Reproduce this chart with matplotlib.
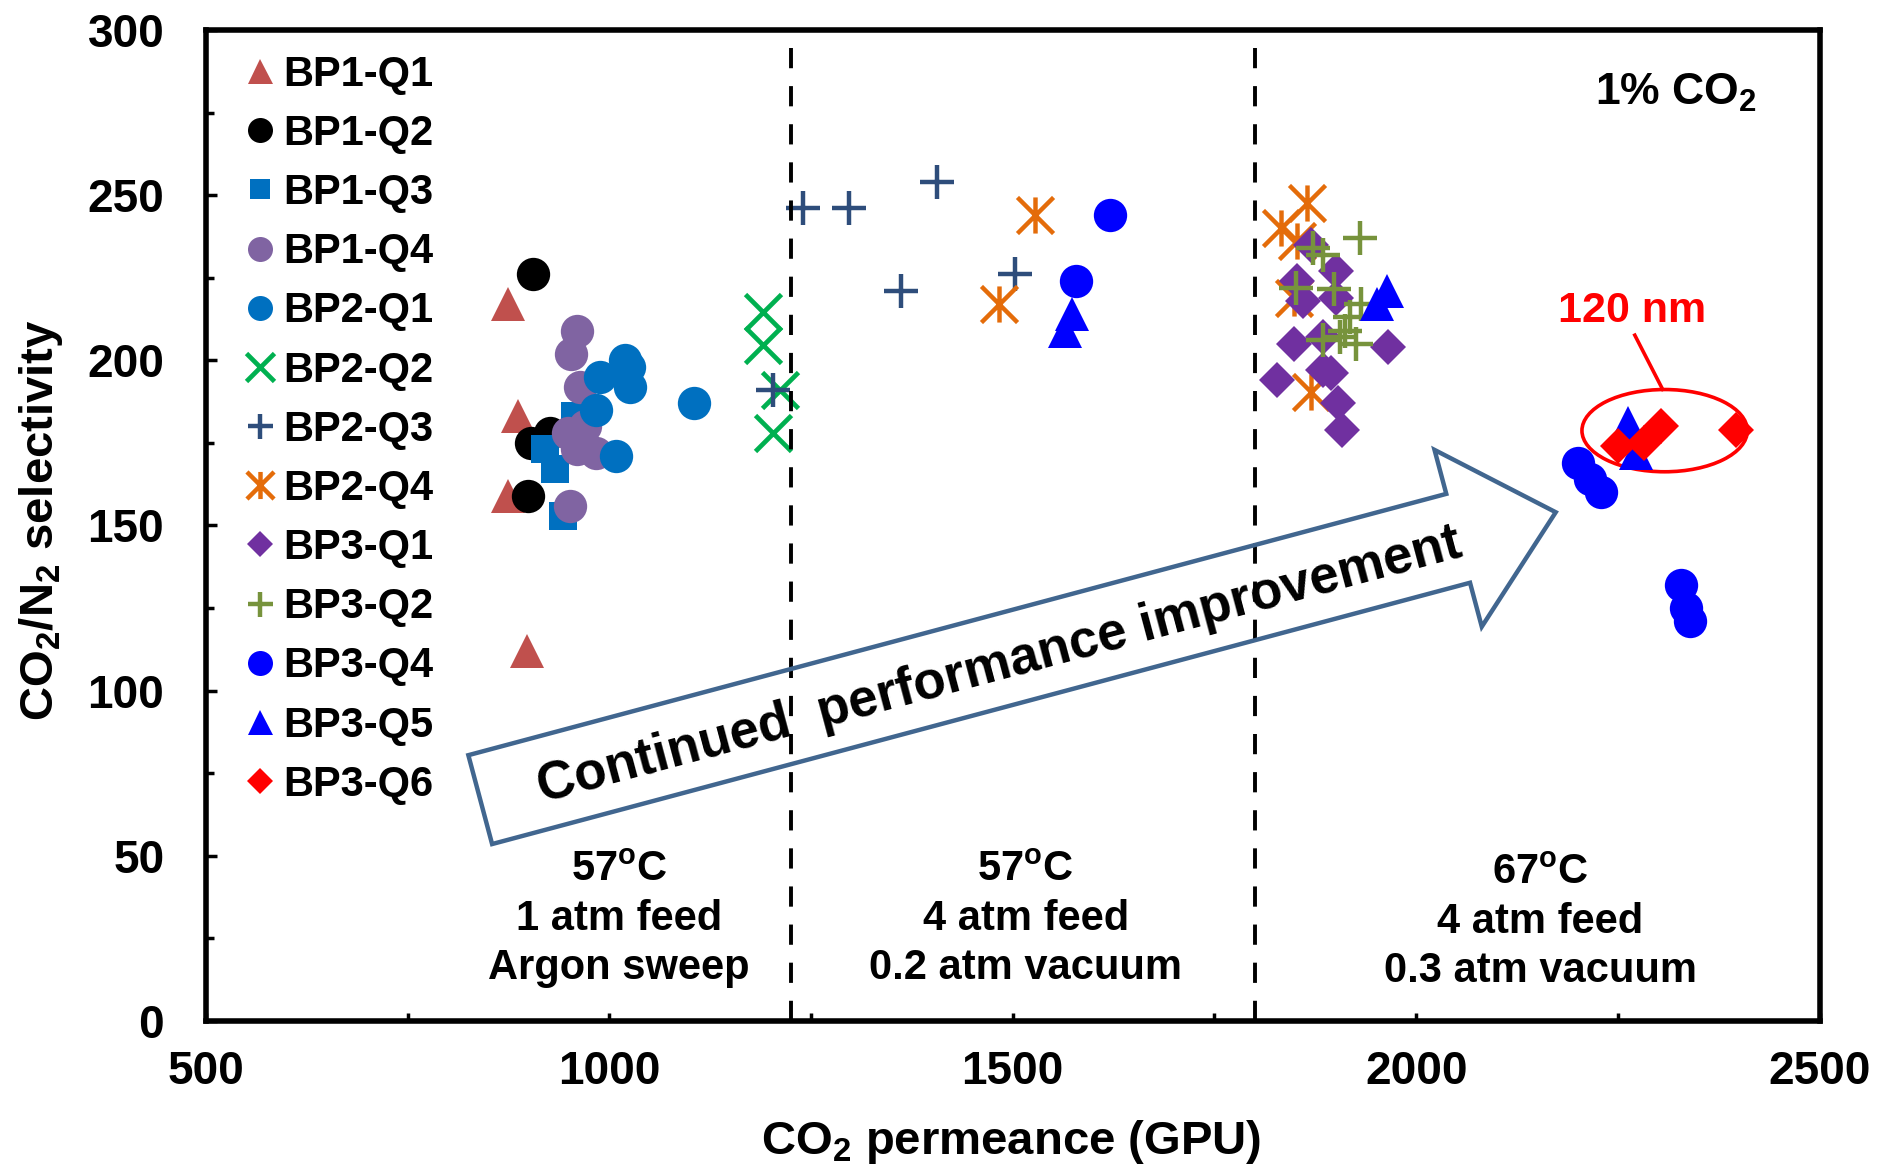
import numpy as np
import matplotlib
matplotlib.use("Agg")
import matplotlib.pyplot as plt
from matplotlib.path import Path
from matplotlib.patches import Ellipse, Polygon
from matplotlib.transforms import IdentityTransform
from matplotlib.ticker import MultipleLocator

plt.rcParams['font.family'] = ['Liberation Sans', 'DejaVu Sans']
plt.rcParams['font.weight'] = 'bold'
plt.rcParams['mathtext.fontset'] = 'custom'
plt.rcParams['mathtext.rm'] = 'Liberation Sans:bold'
plt.rcParams['mathtext.bf'] = 'Liberation Sans:bold'
plt.rcParams['mathtext.it'] = 'Liberation Sans:bold'

# ===================== data =====================
bp1_q1_x = [874, 887, 875, 898]
bp1_q1_y = [217, 183, 159, 112]
bp1_q2_x = [906, 926, 903, 899]
bp1_q2_y = [226, 178, 175, 159]
bp1_q3_x = [957, 920, 933, 942]
bp1_q3_y = [183, 173, 167, 153]
bp1_q4_x = [960, 953, 964, 949, 960, 970, 983, 951]
bp1_q4_y = [209, 202, 192, 178, 173, 180, 172, 156]
bp2_q1_x = [1019, 1024, 1026, 989, 984, 1008, 1105]
bp2_q1_y = [200, 198, 192, 195, 185, 171, 187]
bp2_q2_x = [1190, 1190, 1211, 1203]
bp2_q2_y = [214.5, 204.6, 191, 178]
bp2_q3_x = [1203, 1240, 1297, 1406, 1361, 1503]
bp2_q3_y = [191, 246, 246, 254, 221, 226]
bp2_q4_x = [1527, 1483, 1865, 1832, 1852, 1848, 1870]
bp2_q4_y = [244, 217, 247.5, 240, 236, 219, 190.5]
bp3_q1_x = [1870, 1901, 1852, 1860, 1901, 1848, 1885, 1965, 1827, 1885, 1895, 1903, 1908]
bp3_q1_y = [235, 227, 224, 218, 219, 205, 207, 204, 194, 197, 196, 187, 179]
bp3_q2_x = [1930, 1872, 1884, 1851, 1898, 1932, 1918, 1912, 1884, 1905, 1925]
bp3_q2_y = [237, 234, 232, 222, 221.5, 217, 213, 209, 206, 207, 205]
bp3_q4_x = [1621, 1578, 2201, 2215, 2229, 2328, 2334, 2339]
bp3_q4_y = [244, 224, 169, 164, 160, 132, 125, 121]
bp3_q5_x = [1573, 1565, 1964, 1951, 2263, 2273]
bp3_q5_y = [214, 209, 221, 217, 181, 172]
bp3_q6_x = [2250, 2282, 2304, 2397]
bp3_q6_y = [174, 175, 180, 179]

# asterisk marker like the spreadsheet one (X + vertical bar)
asterisk = Path([(-1, -1), (1, 1), (-1, 1), (1, -1), (0, -1), (0, 1)],
                [Path.MOVETO, Path.LINETO] * 3)

series = [
    ("BP1-Q1", bp1_q1_x, bp1_q1_y, "^", "#C0504D", 24, 0),
    ("BP1-Q2", bp1_q2_x, bp1_q2_y, "o", "black", 24, 0),
    ("BP1-Q3", bp1_q3_x, bp1_q3_y, "s", "#0070C0", 20, 0),
    ("BP1-Q4", bp1_q4_x, bp1_q4_y, "o", "#8064A2", 24, 0),
    ("BP2-Q1", bp2_q1_x, bp2_q1_y, "o", "#0070C0", 24, 0),
    ("BP2-Q2", bp2_q2_x, bp2_q2_y, "x", "#00B050", 26, 3.4),
    ("BP2-Q3", bp2_q3_x, bp2_q3_y, "+", "#2E4D7B", 24, 3.2),
    ("BP2-Q4", bp2_q4_x, bp2_q4_y, asterisk, "#E46C0A", 26, 3.2),
    ("BP3-Q1", bp3_q1_x, bp3_q1_y, "D", "#7030A0", 18, 0),
    ("BP3-Q2", bp3_q2_x, bp3_q2_y, "+", "#77933C", 24, 3.2),
    ("BP3-Q4", bp3_q4_x, bp3_q4_y, "o", "#0000FF", 24, 0),
    ("BP3-Q5", bp3_q5_x, bp3_q5_y, "^", "#0000FF", 24, 0),
    ("BP3-Q6", bp3_q6_x, bp3_q6_y, "D", "#FF0000", 18, 0),
]

fig = plt.figure(figsize=(18.77, 11.70), dpi=100)
ax = fig.add_axes([0.1097, 0.1274, 0.8597, 0.847])

for i, (name, xs, ys, mk, col, ms, mew) in enumerate(series):
    ax.plot(xs, ys, linestyle="none", marker=mk, markersize=ms, color=col,
            markeredgewidth=mew, label=name, zorder=4 + i)

ax.set_xlim(500, 2500)
ax.set_ylim(0, 300)

# region separators
for xv in [1225, 1800]:
    ax.plot([xv, xv], [0, 300], color="black", lw=2.8, dashes=(5.2, 4.6), zorder=20)

# axes style
for sp in ax.spines.values():
    sp.set_linewidth(4)
ax.xaxis.set_major_locator(MultipleLocator(500))
ax.xaxis.set_minor_locator(MultipleLocator(250))
ax.yaxis.set_major_locator(MultipleLocator(50))
ax.yaxis.set_minor_locator(MultipleLocator(25))
ax.tick_params(axis="both", which="both", direction="in", width=2.5, labelsize=33)
ax.tick_params(axis="y", which="major", length=8, pad=30)
ax.tick_params(axis="y", which="minor", length=5.5)
ax.tick_params(axis="x", which="both", length=6, pad=21)
ax.tick_params(top=False, right=False, which="both")

ax.set_xlabel(r"CO$_\mathbf{2}$ permeance (GPU)", fontsize=34, fontweight="bold")
ax.set_ylabel(r"CO$_\mathbf{2}$/N$_\mathbf{2}$ selectivity", fontsize=34, fontweight="bold")
ax.xaxis.set_label_coords(0.499, -0.122)
ax.xaxis.label.set_va("center")
ax.yaxis.set_label_coords(-0.102, 0.505)
ax.yaxis.label.set_va("center")

# legend
leg = ax.legend(loc="upper left", bbox_to_anchor=(0.021, 0.975), frameon=False,
                fontsize=30, markerscale=0.75, handlelength=0.95, handletextpad=0.1,
                labelspacing=0.46, borderaxespad=0, borderpad=0)

# condition labels
ax.text(1012, 30.9, "57$^\\mathbf{o}$C\n1 atm feed\nArgon sweep", ha="center", va="center",
        fontsize=30, linespacing=1.28)
ax.text(1516, 30.9, "57$^\\mathbf{o}$C\n4 atm feed\n0.2 atm vacuum", ha="center", va="center",
        fontsize=30, linespacing=1.28)
ax.text(2154, 29.9, "67$^\\mathbf{o}$C\n4 atm feed\n0.3 atm vacuum", ha="center", va="center",
        fontsize=30, linespacing=1.28)
ax.text(2322, 281, r"1% CO$_\mathbf{2}$", ha="center", va="center", fontsize=32)

# 120 nm highlight
ax.add_patch(Ellipse((2308, 178.7), 205, 24.9, fill=False, ec="#FF0000", lw=2.6, zorder=3))
ax.plot([2271, 2305.5], [207.6, 191.2], color="#FF0000", lw=2.6, zorder=3)
ax.text(2267.5, 215, "120 nm", color="#FF0000", ha="center", va="center", fontsize=31)

# big hollow arrow (geometry in pixels, anchored at data points)
arrow_tail = (840, 67)
arrow_tip = (2173, 154)
p0 = ax.transData.transform(arrow_tail)
p1 = ax.transData.transform(arrow_tip)
d = p1 - p0
L = np.hypot(d[0], d[1])
u = d / L
n = np.array([-u[1], u[0]])
shaft_w, head_w, head_l = 92, 183, 101
hb = p1 - u * head_l
verts = [p0 + n * shaft_w / 2, hb + n * shaft_w / 2, hb + n * head_w / 2, p1,
         hb - n * head_w / 2, hb - n * shaft_w / 2, p0 - n * shaft_w / 2]
arrow = Polygon(verts, closed=True, fill=False, ec="#41668F", lw=3.2,
                transform=IdentityTransform(), clip_on=False, zorder=30)
ax.add_patch(arrow)

txt_pos = ax.transData.inverted().transform(p0 + u * 536 - n * 5)
ang = np.degrees(np.arctan2(u[1], u[0]))
ax.text(txt_pos[0], txt_pos[1], "Continued  performance improvement", fontsize=38,
        rotation=ang, rotation_mode="anchor", ha="center", va="center", zorder=31)

fig.savefig("out.png", dpi=100)
